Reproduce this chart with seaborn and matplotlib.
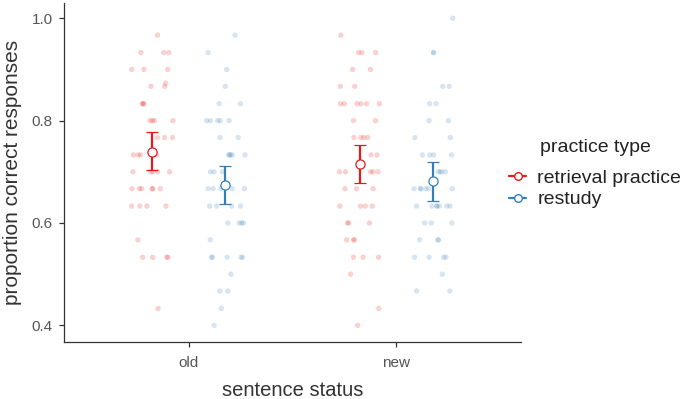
import numpy as np
import pandas as pd
import matplotlib
matplotlib.use("Agg")
import matplotlib.pyplot as plt
from matplotlib.lines import Line2D
import seaborn as sns

# ---- data ----
statuses = ["old", "new"]
practice_types = ["retrieval practice", "restudy"]

old_retrieval = [0.967, 0.933, 0.933, 0.933, 0.900, 0.900, 0.900, 0.873, 0.867, 0.867,
                 0.833, 0.833, 0.833, 0.800, 0.800, 0.800, 0.800, 0.767, 0.767, 0.767,
                 0.733, 0.733, 0.733, 0.733, 0.700, 0.700, 0.700, 0.700, 0.700,
                 0.667, 0.667, 0.667, 0.667, 0.667, 0.667, 0.633, 0.633, 0.633, 0.633,
                 0.567, 0.533, 0.533, 0.533, 0.533, 0.433]
old_restudy = [0.967, 0.933, 0.900, 0.867, 0.833, 0.833, 0.800, 0.800, 0.800, 0.800, 0.800,
               0.767, 0.767, 0.733, 0.733, 0.733, 0.733, 0.733, 0.700, 0.700, 0.700,
               0.667, 0.667, 0.667, 0.667, 0.667, 0.633, 0.633, 0.633, 0.633,
               0.600, 0.600, 0.600, 0.600, 0.567, 0.533, 0.533, 0.533, 0.533, 0.533,
               0.500, 0.467, 0.467, 0.433, 0.400]
new_retrieval = [0.967, 0.933, 0.933, 0.933, 0.900, 0.900, 0.867, 0.867,
                 0.833, 0.833, 0.833, 0.833, 0.833, 0.833, 0.800, 0.800,
                 0.767, 0.767, 0.767, 0.767, 0.733, 0.733, 0.700, 0.700, 0.700, 0.700, 0.700,
                 0.667, 0.667, 0.667, 0.633, 0.633, 0.633, 0.633, 0.600, 0.600, 0.600,
                 0.567, 0.567, 0.567, 0.533, 0.533, 0.533, 0.500, 0.433, 0.400]
new_restudy = [1.000, 0.933, 0.933, 0.867, 0.867, 0.833, 0.833, 0.800, 0.800, 0.767, 0.767,
               0.733, 0.733, 0.733, 0.733, 0.700, 0.700, 0.700, 0.700,
               0.667, 0.667, 0.667, 0.667, 0.667, 0.667,
               0.633, 0.633, 0.633, 0.633, 0.633, 0.633, 0.633, 0.600, 0.600, 0.600,
               0.567, 0.567, 0.567, 0.533, 0.533, 0.533, 0.533, 0.500, 0.467, 0.467]

# summary (mean and interval) per status x practice type
summary_status = ["old", "old", "new", "new"]
summary_practice = ["retrieval practice", "restudy", "retrieval practice", "restudy"]
summary_mean = [0.739, 0.675, 0.716, 0.682]
summary_low = [0.703, 0.637, 0.679, 0.643]
summary_high = [0.777, 0.712, 0.753, 0.720]

y_ticks = [0.4, 0.6, 0.8, 1.0]

# ---- build tables ----
groups = {("old", "retrieval practice"): old_retrieval,
          ("old", "restudy"): old_restudy,
          ("new", "retrieval practice"): new_retrieval,
          ("new", "restudy"): new_restudy}
rows = []
for (st, pt), vals in groups.items():
    for v in vals:
        rows.append({"status": st, "practice": pt, "value": v})
df = pd.DataFrame(rows)

dodge = {"retrieval practice": -0.175, "restudy": 0.175}
rng = np.random.default_rng(7)
df["x"] = (df["status"].map({s: i for i, s in enumerate(statuses)})
           + df["practice"].map(dodge)
           + rng.uniform(-0.1, 0.1, len(df)))

summ = pd.DataFrame({"status": summary_status, "practice": summary_practice,
                     "mean": summary_mean, "low": summary_low, "high": summary_high})
summ["x"] = summ["status"].map({s: i for i, s in enumerate(statuses)}) + summ["practice"].map(dodge)

palette = {"retrieval practice": "#E41A1C", "restudy": "#377EB8"}

# ---- plot ----
sns.set_theme(style="ticks")
plt.rcParams["font.family"] = ["Liberation Sans", "DejaVu Sans"]

fig = plt.figure(figsize=(6.85, 3.99), dpi=100)
ax = fig.add_axes([0.0934, 0.1436, 0.6672, 0.849])

sns.scatterplot(data=df, x="x", y="value", hue="practice", palette=palette,
                alpha=0.2, s=15, linewidth=0, legend=False, ax=ax)

for _, r in summ.iterrows():
    c = palette[r["practice"]]
    ax.errorbar(r["x"], r["mean"],
                yerr=[[r["mean"] - r["low"]], [r["high"] - r["mean"]]],
                fmt="o", color=c, ecolor=c, elinewidth=1.6, capsize=4, capthick=1.6,
                markersize=6.6, markerfacecolor="white", markeredgecolor=c,
                markeredgewidth=0.9, zorder=5)

ax.set_xlim(-0.6, 1.6)
ax.set_ylim(0.368, 1.03)
ax.set_xticks(range(len(statuses)))
ax.set_xticklabels(statuses)
ax.set_yticks(y_ticks)
ax.set_yticklabels([f"{t:.1f}" for t in y_ticks])
for side in ["top", "right"]:
    ax.spines[side].set_visible(False)
for side in ["left", "bottom"]:
    ax.spines[side].set_color("#333333")
    ax.spines[side].set_linewidth(0.9)
ax.tick_params(axis="both", colors="#333333", labelcolor="#555555", labelsize=11,
               length=3.5, width=0.9, pad=4.5)
ax.tick_params(axis="x", pad=7)
ax.set_xlabel("sentence status", fontsize=14.5, color="#333333", labelpad=8)
ax.set_ylabel("proportion correct responses", fontsize=15, color="#333333", labelpad=7)

handles = [Line2D([0], [0], color=palette[p], marker="o", markerfacecolor="white",
                  markeredgecolor=palette[p], markersize=5.5, linewidth=1.6)
           for p in practice_types]
leg = fig.legend(handles, practice_types, loc="upper left",
                 bbox_to_anchor=(0.743, 0.5755), frameon=False, borderpad=0,
                 borderaxespad=0, fontsize=14, handlelength=0.9, handletextpad=0.55,
                 labelspacing=0.2)
for t in leg.get_texts():
    t.set_color("#222222")
fig.text(540 / 685, 1 - 148 / 399, "practice type", fontsize=14, color="#222222",
         ha="left", va="center")

fig.savefig("out.png", dpi=100)
